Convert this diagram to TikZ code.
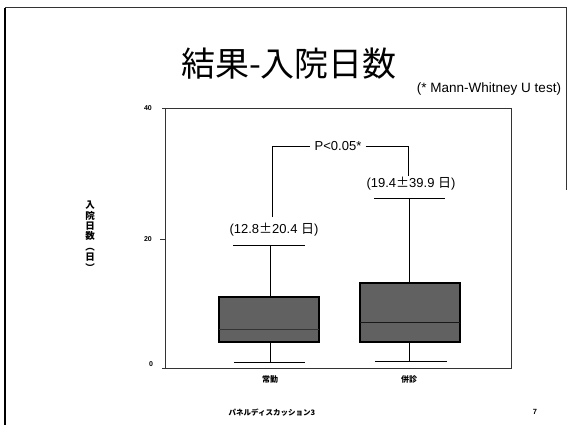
\documentclass[tikz,border=0pt]{standalone}
\usepackage{fontspec}
\setmainfont{Liberation Sans}
\newfontfamily\jp{Noto Sans CJK JP}
\begin{document}
\begin{tikzpicture}[x=1pt,y=-1pt,
  frameln/.style={draw=black!80,line width=0.6pt},
  whisk/.style={draw=black,line width=0.8pt},
  boxfill/.style={draw=black,line width=1.2pt,fill=black!62},
  ticklbl/.style={font=\fontsize{7}{8}\selectfont\bfseries,anchor=center,inner sep=0pt},
  catlbl/.style={font=\jp\fontsize{8}{9}\selectfont\bfseries,inner sep=0pt},
  statlbl/.style={font=\fontsize{13}{15}\selectfont,inner sep=0pt}]
\useasboundingbox (0,0) rectangle (568,425);
% slide border
\coordinate (tl) at (5,8);
\coordinate (bl) at (5,425);
\coordinate (tr) at (566,8);
\coordinate (rr) at (566,190);
\draw[line width=2pt,black] (bl) -- (tl);
\draw[line width=1pt,black!80] (tl) -- (tr) -- (rr);
% title
\node[font=\jp\fontsize{34}{36}\selectfont,inner sep=0pt] (title) at (289,64) {結果-入院日数};
\node[font=\fontsize{13.5}{15}\selectfont,inner sep=0pt] (mw) at (489,89) {(* Mann-Whitney U test)};
% plot frame
\coordinate (f1) at (162,108);
\coordinate (f2) at (511,108);
\coordinate (f3) at (511,368);
\coordinate (f4) at (162,368);
\coordinate (a1) at (165,108);
\coordinate (a2) at (165,368);
\draw[frameln] (f1) -- (f2) -- (f3) -- (f4);
\draw[frameln] (a1) -- (a2);
\coordinate (t20a) at (160,239);
\coordinate (t20b) at (165,239);
\draw[frameln] (t20a) -- (t20b);
\node[ticklbl] (l40) at (148,108) {40};
\node[ticklbl] (l20) at (148,239) {20};
\node[ticklbl] (l0) at (151,364) {0};
% y label
\node[font=\jp\fontsize{9.5}{10.4}\selectfont\bfseries,align=center,inner sep=0pt] (ylab) at (90,236)
  {入\\院\\日\\数\\︵\\日\\︶};
% box 1
\coordinate (w1t) at (270,245);
\coordinate (w1b) at (270,362);
\coordinate (c1a) at (233,245);
\coordinate (c1b) at (305,245);
\coordinate (c1c) at (234,362);
\coordinate (c1d) at (305,362);
\draw[whisk] (w1t) -- (w1b);
\draw[whisk] (c1a) -- (c1b);
\draw[whisk] (c1c) -- (c1d);
\draw[boxfill] (219,297) rectangle (319,342);
\coordinate (m1a) at (219,329);
\coordinate (m1b) at (319,329);
\draw[black!80,line width=0.6pt] (m1a) -- (m1b);
% box 2
\coordinate (w2t) at (409,198);
\coordinate (w2b) at (409,361);
\coordinate (c2a) at (374,198);
\coordinate (c2b) at (445,198);
\coordinate (c2c) at (375,361);
\coordinate (c2d) at (447,361);
\draw[whisk] (w2t) -- (w2b);
\draw[whisk] (c2a) -- (c2b);
\draw[whisk] (c2c) -- (c2d);
\draw[boxfill] (360,283) rectangle (460,342);
\coordinate (m2a) at (360,322);
\coordinate (m2b) at (460,322);
\draw[black!90,line width=0.8pt] (m2a) -- (m2b);
% stats labels
\node[statlbl] (s1) at (274,230) {(12.8{\jp ±}20.4 {\jp 日})};
\node[statlbl] (s2) at (411,184) {(19.4{\jp ±}39.9 {\jp 日})};
% bracket
\node[statlbl,inner xsep=4pt] (p) at (338,146) {P<0.05*};
\coordinate (b1) at (272,217);
\coordinate (b2) at (272,146);
\coordinate (b3) at (408,146);
\coordinate (b4) at (408,176);
\draw[whisk] (b1) -- (b2) -- (p.west);
\draw[whisk] (p.east) -- (b3) -- (b4);
% category labels
\node[catlbl] (k1) at (270,379) {常勤};
\node[catlbl] (k2) at (409,379) {併診};
% footer
\node[font=\jp\fontsize{7.5}{9}\selectfont\bfseries,inner sep=0pt] (foot) at (272,413) {パネルディスカッション3};
\node[font=\fontsize{7.5}{9}\selectfont\bfseries,inner sep=0pt] (pg) at (535,412) {7};
\end{tikzpicture}
\end{document}
